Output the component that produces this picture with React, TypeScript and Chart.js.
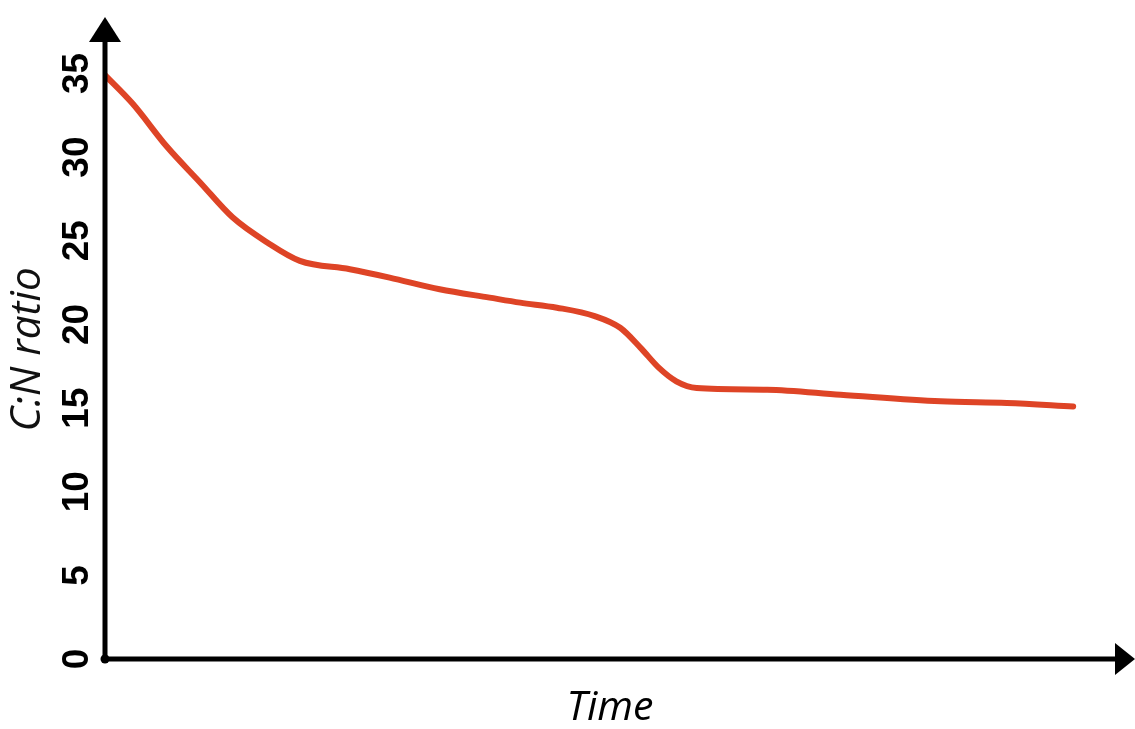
import React, { useEffect, useRef } from "react";
import { Chart, registerables } from "chart.js";

Chart.register(...registerables);

// Time (arbitrary units) and C:N ratio
const timePoints = [0, 2.7, 6.1, 9.3, 12.5, 15.9, 19.1, 24, 27.9, 32.8, 37.7, 40.7, 44.3, 48, 50.5, 52.5, 54.3, 56, 58, 64.9, 72.1, 81.9, 88.4, 94.9];
const cnRatio = [34.9, 33.2, 30.6, 28.5, 26.4, 24.9, 23.8, 23.3, 22.8, 22.1, 21.6, 21.3, 21.0, 20.5, 19.8, 18.6, 17.4, 16.6, 16.2, 16.1, 15.8, 15.4, 15.3, 15.1];

const xTitle = "Time";
const yTitle = "C:N ratio";
const yMin = 0;
const yMax = 37;
const yStep = 5;
const xMin = 0;
const xMax = 99;

const axisArrows = {
  id: "axisArrows",
  afterDatasetsDraw(chart: any) {
    const { ctx, chartArea } = chart;
    const { left, right, top, bottom } = chartArea;
    ctx.save();
    ctx.strokeStyle = "#000";
    ctx.fillStyle = "#000";
    ctx.lineWidth = 5;
    ctx.lineCap = "round";
    ctx.lineJoin = "round";
    ctx.beginPath();
    ctx.moveTo(left, bottom);
    ctx.lineTo(left, top);
    ctx.moveTo(left, bottom);
    ctx.lineTo(right, bottom);
    ctx.stroke();
    // y arrow
    ctx.beginPath();
    ctx.moveTo(left, top - 23);
    ctx.lineTo(left - 16, top + 2);
    ctx.lineTo(left + 16, top + 2);
    ctx.closePath();
    ctx.fill();
    // x arrow
    ctx.beginPath();
    ctx.moveTo(right + 20, bottom);
    ctx.lineTo(right, bottom - 16);
    ctx.lineTo(right, bottom + 16);
    ctx.closePath();
    ctx.fill();
    // origin dot
    ctx.beginPath();
    ctx.arc(left, bottom, 4.5, 0, Math.PI * 2);
    ctx.fill();
    ctx.restore();
  },
};

export default function App() {
  const ref = useRef<HTMLCanvasElement>(null);
  useEffect(() => {
    if (!ref.current) return;
    const chart = new Chart(ref.current, {
      type: "line",
      data: {
        datasets: [
          {
            data: timePoints.map((t, i) => ({ x: t, y: cnRatio[i] })),
            borderColor: "#DE4426",
            borderWidth: 6,
            borderCapStyle: "round",
            borderJoinStyle: "round",
            pointRadius: 0,
            cubicInterpolationMode: "monotone",
            fill: false,
          },
        ],
      },
      options: {
        responsive: false,
        animation: false,
        layout: { padding: { top: 40, right: 20, left: 0, bottom: 0 } },
        plugins: { legend: { display: false }, tooltip: { enabled: false } },
        scales: {
          x: {
            type: "linear",
            min: xMin,
            max: xMax,
            grid: { display: false },
            border: { display: false },
            ticks: { display: false },
            afterFit: (s: any) => {
              s.height = 70;
            },
            title: {
              display: true,
              text: xTitle,
              color: "#000",
              font: { family: "'Open Sans'", style: "italic", size: 41, lineHeight: 1 },
              padding: { top: 0, bottom: 0 },
            },
          },
          y: {
            type: "linear",
            min: yMin,
            max: yMax,
            grid: { display: false, drawTicks: false },
            border: { display: false },
            afterFit: (s: any) => {
              s.width = 105;
            },
            ticks: {
              stepSize: yStep,
              includeBounds: false,
              autoSkip: false,
              minRotation: 90,
              maxRotation: 90,
              crossAlign: "center",
              padding: 7,
              color: "#000",
              font: { family: "'Liberation Sans'", weight: "bold", size: 37 },
            },
            title: {
              display: true,
              text: yTitle,
              color: "#111",
              font: { family: "'Open Sans'", style: "italic", size: 42, lineHeight: 1 },
              padding: { top: 7, bottom: 0 },
            },
          },
        },
      },
      plugins: [axisArrows],
    } as any);
    return () => chart.destroy();
  }, []);
  return (
    <div style={{ position: "fixed", left: 0, top: 0, width: 1135, height: 729, background: "#fff" }}>
      <canvas ref={ref} width={1135} height={729} />
    </div>
  );
}
